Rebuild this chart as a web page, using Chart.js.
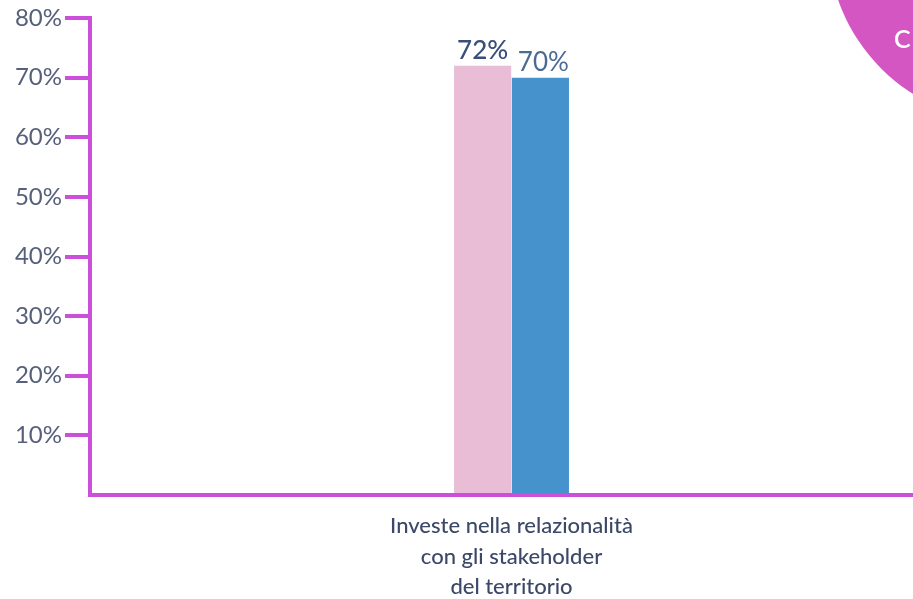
<!DOCTYPE html>
<html>
<head>
    <title>Relazionalità</title>
    <style>
        body { margin: 0; padding: 0; background: #ffffff; }
        #wrap { width: 913px; height: 599px; }
    </style>
    <script src="https://cdn.jsdelivr.net/npm/chart.js"></script>
</head>
<body>
<div id="wrap"><canvas id="myChart"></canvas></div>
<script>
    // dati
    const categories = [['Investe nella relazionalità', 'con gli stakeholder', 'del territorio']];
    const seriesA = [72];
    const seriesB = [70];
    const yTicks = [0, 10, 20, 30, 40, 50, 60, 70, 80];

    const magenta = '#cc4fdc';

    // l'asse x nell'originale continua oltre il bordo destro
    const widenX = {
        id: 'widenX',
        afterLayout(chart) {
            const x = chart.scales.x;
            x.right += 20;
            x.width += 20;
            x.configure();
        }
    };

    // etichette sopra le barre + cerchio decorativo in alto a destra
    const extras = {
        id: 'extras',
        afterDraw(chart) {
            const ctx = chart.ctx;
            ctx.save();
            const colors = ['#3a4e7c', '#4b6b94'];
            chart.data.datasets.forEach((ds, i) => {
                const meta = chart.getDatasetMeta(i);
                meta.data.forEach((bar, j) => {
                    ctx.fillStyle = colors[i];
                    ctx.font = (i === 0 ? '500 ' : '400 ') + '26px Lato';
                    ctx.textAlign = 'center';
                    ctx.textBaseline = 'bottom';
                    ctx.fillText(ds.data[j] + '%', bar.x + (i === 0 ? 0 : 3), bar.y - 2);
                });
            });
            // cerchio
            ctx.beginPath();
            ctx.arc(1010, -60, 182, 0, Math.PI * 2);
            ctx.fillStyle = '#d456c2';
            ctx.fill();
            ctx.fillStyle = '#ffffff';
            ctx.font = '600 25px Lato';
            ctx.textAlign = 'left';
            ctx.textBaseline = 'alphabetic';
            ctx.fillText('C', 894, 48);
            ctx.restore();
        }
    };

    new Chart(document.getElementById('myChart'), {
        type: 'bar',
        data: {
            labels: categories,
            datasets: [
                { data: seriesA, backgroundColor: '#eabdd7', borderWidth: 0 },
                { data: seriesB, backgroundColor: '#4592cc', borderWidth: 0 }
            ]
        },
        options: {
            responsive: true,
            maintainAspectRatio: false,
            animation: false,
            layout: { padding: { top: 18, right: 0, left: 0, bottom: 0 } },
            datasets: { bar: { categoryPercentage: 0.137, barPercentage: 0.99 } },
            plugins: { legend: { display: false }, tooltip: { enabled: false } },
            scales: {
                x: {
                    grid: { display: false, drawTicks: false },
                    border: { display: true, color: magenta, width: 4 },
                    ticks: {
                        color: '#3b4868',
                        font: { family: 'Lato', size: 22, weight: '500', lineHeight: 1.38 },
                        padding: 16,
                        maxRotation: 0
                    },
                    afterFit(scale) { scale.height = 104; }
                },
                y: {
                    min: 0,
                    max: 80,
                    afterBuildTicks(scale) { scale.ticks = yTicks.map(v => ({ value: v })); },
                    grid: {
                        drawOnChartArea: false,
                        tickLength: 25,
                        lineWidth: 4,
                        color: c => (c.tick && c.tick.value === 0) ? 'rgba(0,0,0,0)' : magenta
                    },
                    border: { display: true, color: magenta, width: 4 },
                    ticks: {
                        color: '#56607a',
                        font: { family: 'Lato', size: 24 },
                        padding: 3,
                        callback: v => v === 0 ? '' : v + '%'
                    },
                    afterFit(scale) { scale.width = 90; }
                }
            }
        },
        plugins: [widenX, extras]
    });
</script>
</body>
</html>
